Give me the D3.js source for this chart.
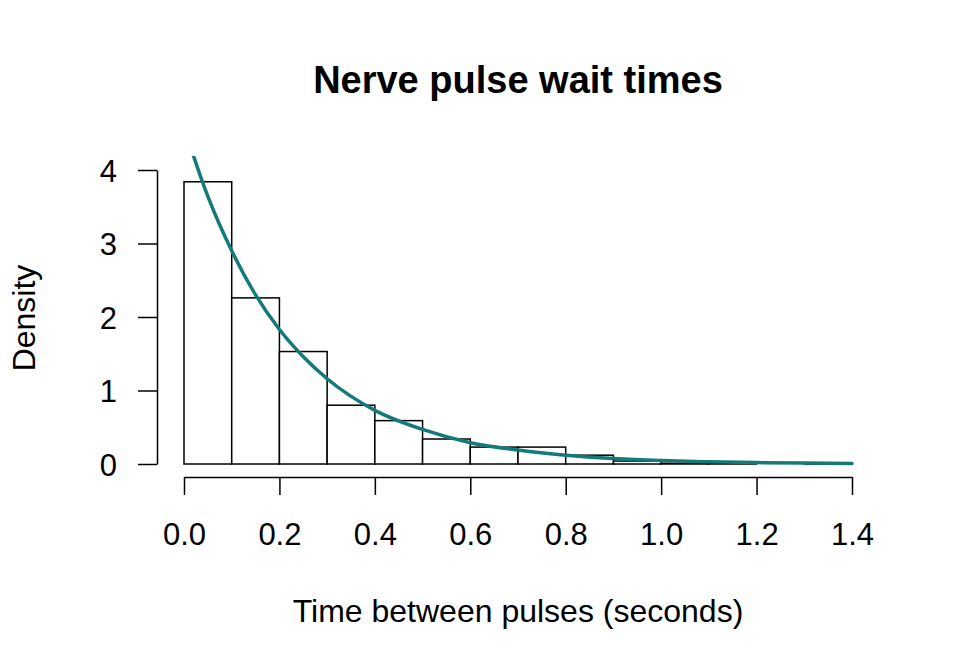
<!DOCTYPE html>
<html>
<head>
<meta charset="utf-8">
<script src="https://cdn.jsdelivr.net/npm/d3@7"></script>
<style>
  body { margin: 0; background: #fff; }
  svg { font-family: "Liberation Sans", Arial, sans-serif; }
  .tick-label { font-size: 31px; fill: #000; }
  .label-text { font-size: 32px; fill: #000; }
  .title-text { font-size: 38px; font-weight: bold; fill: #000; }
</style>
</head>
<body>
<script>
// histogram bins (seconds) and densities
var binStarts = [0.0, 0.1, 0.2, 0.3, 0.4, 0.5, 0.6, 0.7, 0.8, 0.9, 1.0, 1.1, 1.2, 1.3];
var densities = [3.84, 2.26, 1.53, 0.80, 0.59, 0.34, 0.23, 0.23, 0.12, 0.04, 0.01, 0.004, 0.0, 0.004];
var binWidth = 0.1;

// fitted density curve
var curveX = [0, 0.05, 0.1, 0.15, 0.2, 0.25, 0.3, 0.4, 0.5, 0.6, 0.7, 0.8, 0.9, 1.0, 1.1, 1.2, 1.3, 1.4];
var curveY = [4.58, 3.64, 2.90, 2.30, 1.83, 1.46, 1.16, 0.73, 0.47, 0.29, 0.19, 0.12, 0.075, 0.047, 0.030, 0.019, 0.012, 0.0075];

var xTicks = [0, 0.2, 0.4, 0.6, 0.8, 1.0, 1.2, 1.4];
var yTicks = [0, 1, 2, 3, 4];

var width = 960, height = 672;

var svg = d3.select("body").append("svg")
    .attr("width", width)
    .attr("height", height);

var xScale = d3.scaleLinear()
    .domain([0, 1.4])
    .range([184, 852]);

var yScale = d3.scaleLinear()
    .domain([0, 4])
    .range([464, 170]);

var yTop = yScale(4.19);

svg.append("clipPath")
    .attr("id", "plot-clip")
    .append("rect")
    .attr("x", 150)
    .attr("y", yTop)
    .attr("width", 730)
    .attr("height", 470 - yTop);

var bins = binStarts.map(function(s, i) {
    return {x0: s, x1: s + binWidth, density: densities[i]};
});

svg.selectAll(".bar")
    .data(bins)
    .enter()
    .append("rect")
    .attr("class", "bar")
    .attr("x", function(d) { return xScale(d.x0); })
    .attr("y", function(d) { return yScale(d.density); })
    .attr("width", function(d) { return xScale(d.x1) - xScale(d.x0); })
    .attr("height", function(d) { return yScale(0) - yScale(d.density); })
    .attr("fill", "#fff")
    .attr("stroke", "#000")
    .attr("stroke-width", 1.5);

var points = curveX.map(function(x, i) { return {x: x, y: curveY[i]}; });

var line = d3.line()
    .x(function(d) { return xScale(d.x); })
    .y(function(d) { return yScale(d.y); })
    .curve(d3.curveMonotoneX);

svg.append("path")
    .datum(points)
    .attr("clip-path", "url(#plot-clip)")
    .attr("d", line)
    .attr("fill", "none")
    .attr("stroke", "#127b79")
    .attr("stroke-width", 3.5)
    .attr("stroke-linecap", "round");

// x axis, R style: detached below the plot
var gx = svg.append("g")
    .attr("transform", "translate(0,477)")
    .call(d3.axisBottom(xScale)
        .tickValues(xTicks)
        .tickFormat(d3.format(".1f"))
        .tickSize(18)
        .tickSizeOuter(0));

gx.selectAll(".tick text")
    .attr("y", 68)
    .attr("dy", 0);

var gy = svg.append("g")
    .attr("transform", "translate(157,0)")
    .call(d3.axisLeft(yScale)
        .tickValues(yTicks)
        .tickFormat(d3.format("d"))
        .tickSize(19)
        .tickPadding(21)
        .tickSizeOuter(0));

gy.selectAll(".tick text").attr("dy", "0.36em");

[gx, gy].forEach(function(g) {
    g.attr("font-size", null).attr("font-family", null);
    g.select(".domain").attr("stroke", "#000").attr("stroke-width", 1.5);
    g.selectAll(".tick line").attr("stroke", "#000").attr("stroke-width", 1.5);
    g.selectAll(".tick text").attr("class", "tick-label");
});

svg.append("text")
    .attr("class", "title-text")
    .attr("x", 518)
    .attr("y", 93)
    .attr("text-anchor", "middle")
    .text("Nerve pulse wait times");

svg.append("text")
    .attr("class", "label-text")
    .attr("x", 518)
    .attr("y", 622)
    .attr("text-anchor", "middle")
    .text("Time between pulses (seconds)");

svg.append("text")
    .attr("class", "label-text")
    .attr("transform", "translate(35,318) rotate(-90)")
    .attr("text-anchor", "middle")
    .text("Density");
</script>
</body>
</html>
